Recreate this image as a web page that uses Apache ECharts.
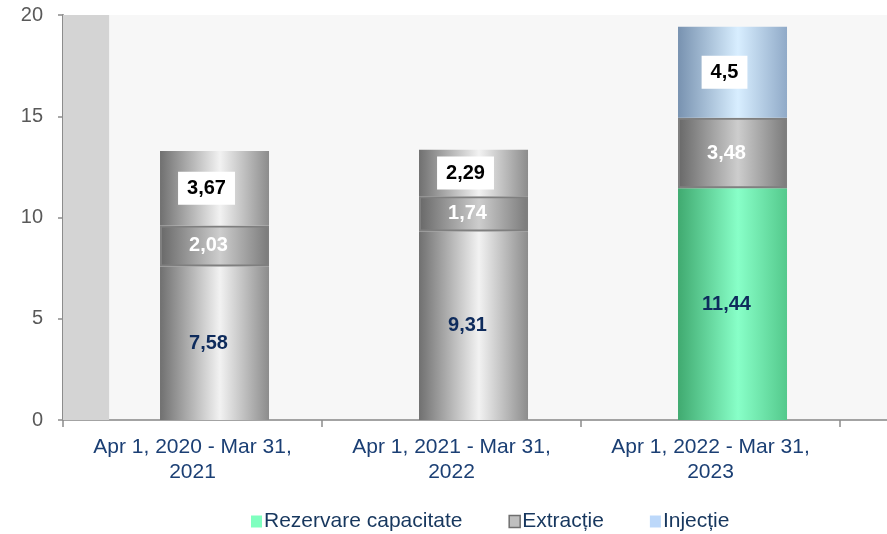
<!DOCTYPE html>
<html>
<head>
<meta charset="utf-8">
<script src="https://cdn.jsdelivr.net/npm/echarts@6/dist/echarts.min.js"></script>
<style>
  html, body { margin: 0; padding: 0; background: #fff; }
  #chart { width: 887px; height: 534px; }
</style>
</head>
<body>
<div id="chart"></div>
<script>
  // data
  const categories = ['Apr 1, 2020 - Mar 31, 2021', 'Apr 1, 2021 - Mar 31, 2022', 'Apr 1, 2022 - Mar 31, 2023', '']
  const rezervare = [7.58, 9.31, 11.44]
  const extractie = [2.03, 1.74, 3.48]
  const injectie = [3.67, 2.29, 4.5]
  const yTicks = [0, 5, 10, 15, 20]

  const FONT = "'Liberation Sans', Arial, sans-serif"
  const grad = (a, b, c) => new echarts.graphic.LinearGradient(0, 0, 1, 0, [
    { offset: 0, color: a }, { offset: 0.55, color: b }, { offset: 1, color: c }
  ])
  const grayCyl = grad('#707070', '#f2f2f2', '#8c8c8c')
  const darkCyl = grad('#686868', '#cdcdcd', '#7a7a7a')
  const greenCyl = grad('#40aa70', '#88ffc8', '#54c98c')
  const blueCyl = grad('#7892b0', '#d8eeff', '#90aac8')

  const fmt = p => String(p.value).replace('.', ',')
  const BW = 109

  const chart = echarts.init(document.getElementById('chart'))
  chart.setOption({
    animation: false,
    backgroundColor: '#fff',
    textStyle: { fontFamily: FONT },
    grid: {
      left: 63, top: 15, bottom: 114, width: 1036,
      outerBoundsMode: 'none',
      show: true, backgroundColor: '#f7f7f7', borderWidth: 0
    },
    legend: {
      left: 246, bottom: -3,
      itemWidth: 11, itemHeight: 12, itemGap: 46,
      icon: 'rect',
      textStyle: { fontSize: 21, color: '#17375e', fontFamily: FONT, padding: [0, 0, 0, -3] },
      data: [
        { name: 'Rezervare capacitate', itemStyle: { color: '#7fffbf', borderWidth: 0 } },
        { name: 'Extracție', itemStyle: { color: '#bfbfbf', borderColor: '#6f6f6f', borderWidth: 1.5 } },
        { name: 'Injecție', itemStyle: { color: '#bcd8fa', borderWidth: 0 } }
      ]
    },
    xAxis: [{
      type: 'category',
      data: categories,
      axisLine: { lineStyle: { color: '#a3a3a3', width: 2 } },
      axisTick: { show: true, length: 7, lineStyle: { color: '#8c8c8c', width: 1.5 } },
      axisLabel: {
        interval: 0, margin: 15, fontSize: 21, lineHeight: 25, color: '#1b3f74',
        formatter: v => v.replace(/, (\d{4})$/, ',\n$1')
      }
    }, {
      type: 'value', show: false, min: 0, max: 4
    }],
    yAxis: {
      type: 'value', min: yTicks[0], max: yTicks[yTicks.length - 1], interval: 5,
      splitLine: { show: false },
      axisLine: { show: true, lineStyle: { color: '#8c8c8c', width: 2 } },
      axisTick: { show: true, length: 5, lineStyle: { color: '#8c8c8c', width: 1.5 } },
      axisLabel: { margin: 20, fontSize: 20, color: '#595959' }
    },
    series: [
      {
        // grey band at the left of the plot
        type: 'line', xAxisIndex: 1, data: [[0, 0]], symbol: 'none', silent: true,
        lineStyle: { opacity: 0 },
        markArea: {
          silent: true,
          itemStyle: { color: '#d4d4d4' },
          data: [[{ xAxis: 0, yAxis: 0 }, { xAxis: 0.178, yAxis: 20 }]]
        }
      },
      {
        // empty slot that pushes the bars right of the category centre
        type: 'bar', stack: 'spacer', barWidth: BW, barGap: '-59.6%',
        data: categories.map(() => 0), itemStyle: { opacity: 0 }, silent: true
      },
      {
        name: 'Rezervare capacitate', type: 'bar', stack: 'a', barWidth: BW, barGap: '-59.6%',
        data: rezervare.map((v, i) => ({ value: v, itemStyle: { color: i === 2 ? greenCyl : grayCyl } })),
        label: {
          show: true, position: 'inside', formatter: fmt, offset: [-6, 0],
          fontSize: 20, fontWeight: 'bold', color: '#0e2b5c', fontFamily: FONT
        }
      },
      {
        name: 'Extracție', type: 'bar', stack: 'a', barWidth: BW, barGap: '-59.6%',
        data: extractie.map(v => ({ value: v, itemStyle: { color: darkCyl } })),
        itemStyle: { borderColor: '#7f7f7f', borderWidth: 2 },
        label: {
          show: true, position: 'inside', formatter: fmt, offset: [-6, 0],
          fontSize: 20, fontWeight: 'bold', color: '#ffffff', fontFamily: FONT
        }
      },
      {
        name: 'Injecție', type: 'bar', stack: 'a', barWidth: BW, barGap: '-59.6%',
        data: injectie.map((v, i) => ({ value: v, itemStyle: { color: i === 2 ? blueCyl : grayCyl } })),
        label: {
          show: true, position: 'inside', formatter: fmt, offset: [-8, 0],
          fontSize: 20, fontWeight: 'bold', color: '#000000', fontFamily: FONT,
          backgroundColor: '#ffffff', padding: [7, 9, 6, 9]
        }
      }
    ]
  })
</script>
</body>
</html>
